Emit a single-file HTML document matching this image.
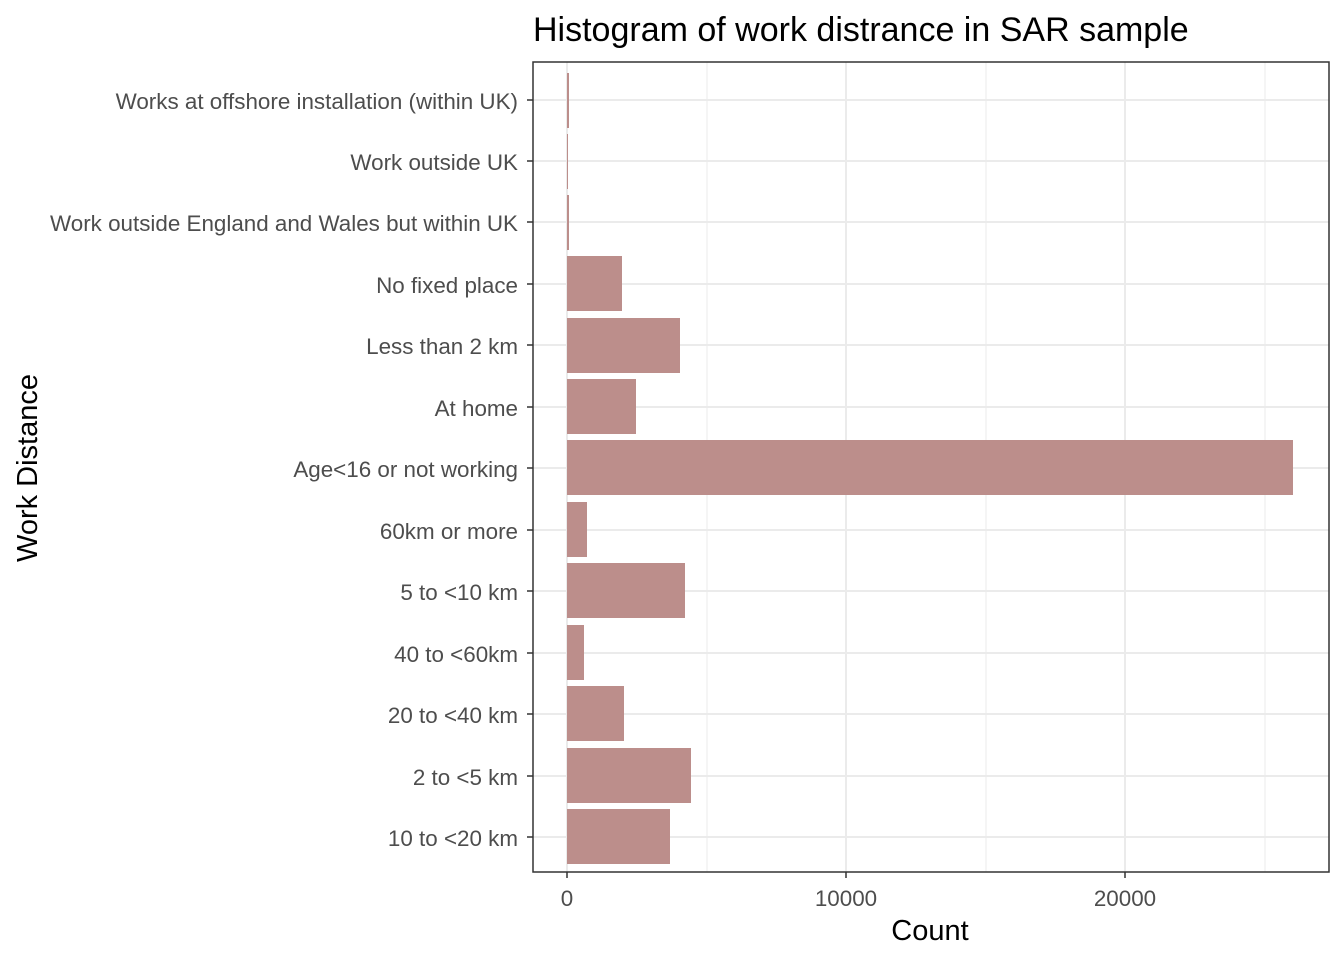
<!DOCTYPE html>
<html><head><meta charset="utf-8"><style>
html,body{margin:0;padding:0;background:#fff;}
svg{display:block;font-family:"Liberation Sans",Arial,sans-serif;}
</style></head><body>
<svg width="1344" height="960" xmlns="http://www.w3.org/2000/svg">
<rect width="1344" height="960" fill="#fff"/>
<text x="533" y="41" font-size="34" fill="#000">Histogram of work distrance in SAR sample</text>
<g stroke="#ebebeb" stroke-width="1">
<line x1="707" y1="62" x2="707" y2="872"/><line x1="986" y1="62" x2="986" y2="872"/><line x1="1265" y1="62" x2="1265" y2="872"/>
</g>
<g stroke="#ebebeb" stroke-width="2">
<line x1="567" y1="62" x2="567" y2="872"/><line x1="846" y1="62" x2="846" y2="872"/><line x1="1125" y1="62" x2="1125" y2="872"/>
<line x1="533" y1="100" x2="1329" y2="100"/><line x1="533" y1="161" x2="1329" y2="161"/><line x1="533" y1="222" x2="1329" y2="222"/>
<line x1="533" y1="284" x2="1329" y2="284"/><line x1="533" y1="345" x2="1329" y2="345"/><line x1="533" y1="407" x2="1329" y2="407"/>
<line x1="533" y1="468" x2="1329" y2="468"/><line x1="533" y1="530" x2="1329" y2="530"/><line x1="533" y1="591" x2="1329" y2="591"/>
<line x1="533" y1="653" x2="1329" y2="653"/><line x1="533" y1="714" x2="1329" y2="714"/><line x1="533" y1="776" x2="1329" y2="776"/>
<line x1="533" y1="837" x2="1329" y2="837"/>
</g>
<g fill="#bc8e8b">
<rect x="567" y="73" width="2" height="55"/>
<rect x="567" y="134" width="1" height="55"/>
<rect x="567" y="195" width="2" height="55"/>
<rect x="567" y="256" width="55" height="55"/>
<rect x="567" y="318" width="113" height="55"/>
<rect x="567" y="379" width="69" height="55"/>
<rect x="567" y="440" width="726" height="55"/>
<rect x="567" y="502" width="20" height="55"/>
<rect x="567" y="563" width="118" height="55"/>
<rect x="567" y="625" width="17" height="55"/>
<rect x="567" y="686" width="57" height="55"/>
<rect x="567" y="748" width="124" height="55"/>
<rect x="567" y="809" width="103" height="55"/>
</g>
<rect x="533" y="62" width="796" height="810" fill="none" stroke="#333" stroke-width="1.5"/>
<g stroke="#333" stroke-width="1.5">
<line x1="527" y1="100" x2="533" y2="100"/><line x1="527" y1="161" x2="533" y2="161"/><line x1="527" y1="222" x2="533" y2="222"/>
<line x1="527" y1="284" x2="533" y2="284"/><line x1="527" y1="345" x2="533" y2="345"/><line x1="527" y1="407" x2="533" y2="407"/>
<line x1="527" y1="468" x2="533" y2="468"/><line x1="527" y1="530" x2="533" y2="530"/><line x1="527" y1="591" x2="533" y2="591"/>
<line x1="527" y1="653" x2="533" y2="653"/><line x1="527" y1="714" x2="533" y2="714"/><line x1="527" y1="776" x2="533" y2="776"/>
<line x1="527" y1="837" x2="533" y2="837"/>
<line x1="567" y1="872" x2="567" y2="878"/><line x1="846" y1="872" x2="846" y2="878"/><line x1="1125" y1="872" x2="1125" y2="878"/>
</g>
<g font-size="22.4" fill="#4d4d4d" text-anchor="end">
<text x="518" y="109">Works at offshore installation (within UK)</text>
<text x="518" y="170">Work outside UK</text>
<text x="518" y="231">Work outside England and Wales but within UK</text>
<text x="518" y="293">No fixed place</text>
<text x="518" y="354">Less than 2 km</text>
<text x="518" y="416">At home</text>
<text x="518" y="477">Age&lt;16 or not working</text>
<text x="518" y="539">60km or more</text>
<text x="518" y="600">5 to &lt;10 km</text>
<text x="518" y="662">40 to &lt;60km</text>
<text x="518" y="723">20 to &lt;40 km</text>
<text x="518" y="785">2 to &lt;5 km</text>
<text x="518" y="846">10 to &lt;20 km</text>
</g>
<g font-size="22.4" fill="#4d4d4d" text-anchor="middle">
<text x="567" y="906">0</text><text x="846" y="906">10000</text><text x="1125" y="906">20000</text>
</g>
<text x="930" y="940" font-size="29" text-anchor="middle" fill="#000">Count</text>
<text transform="translate(37,468) rotate(-90)" font-size="29" text-anchor="middle" fill="#000">Work Distance</text>
</svg>
</body></html>
